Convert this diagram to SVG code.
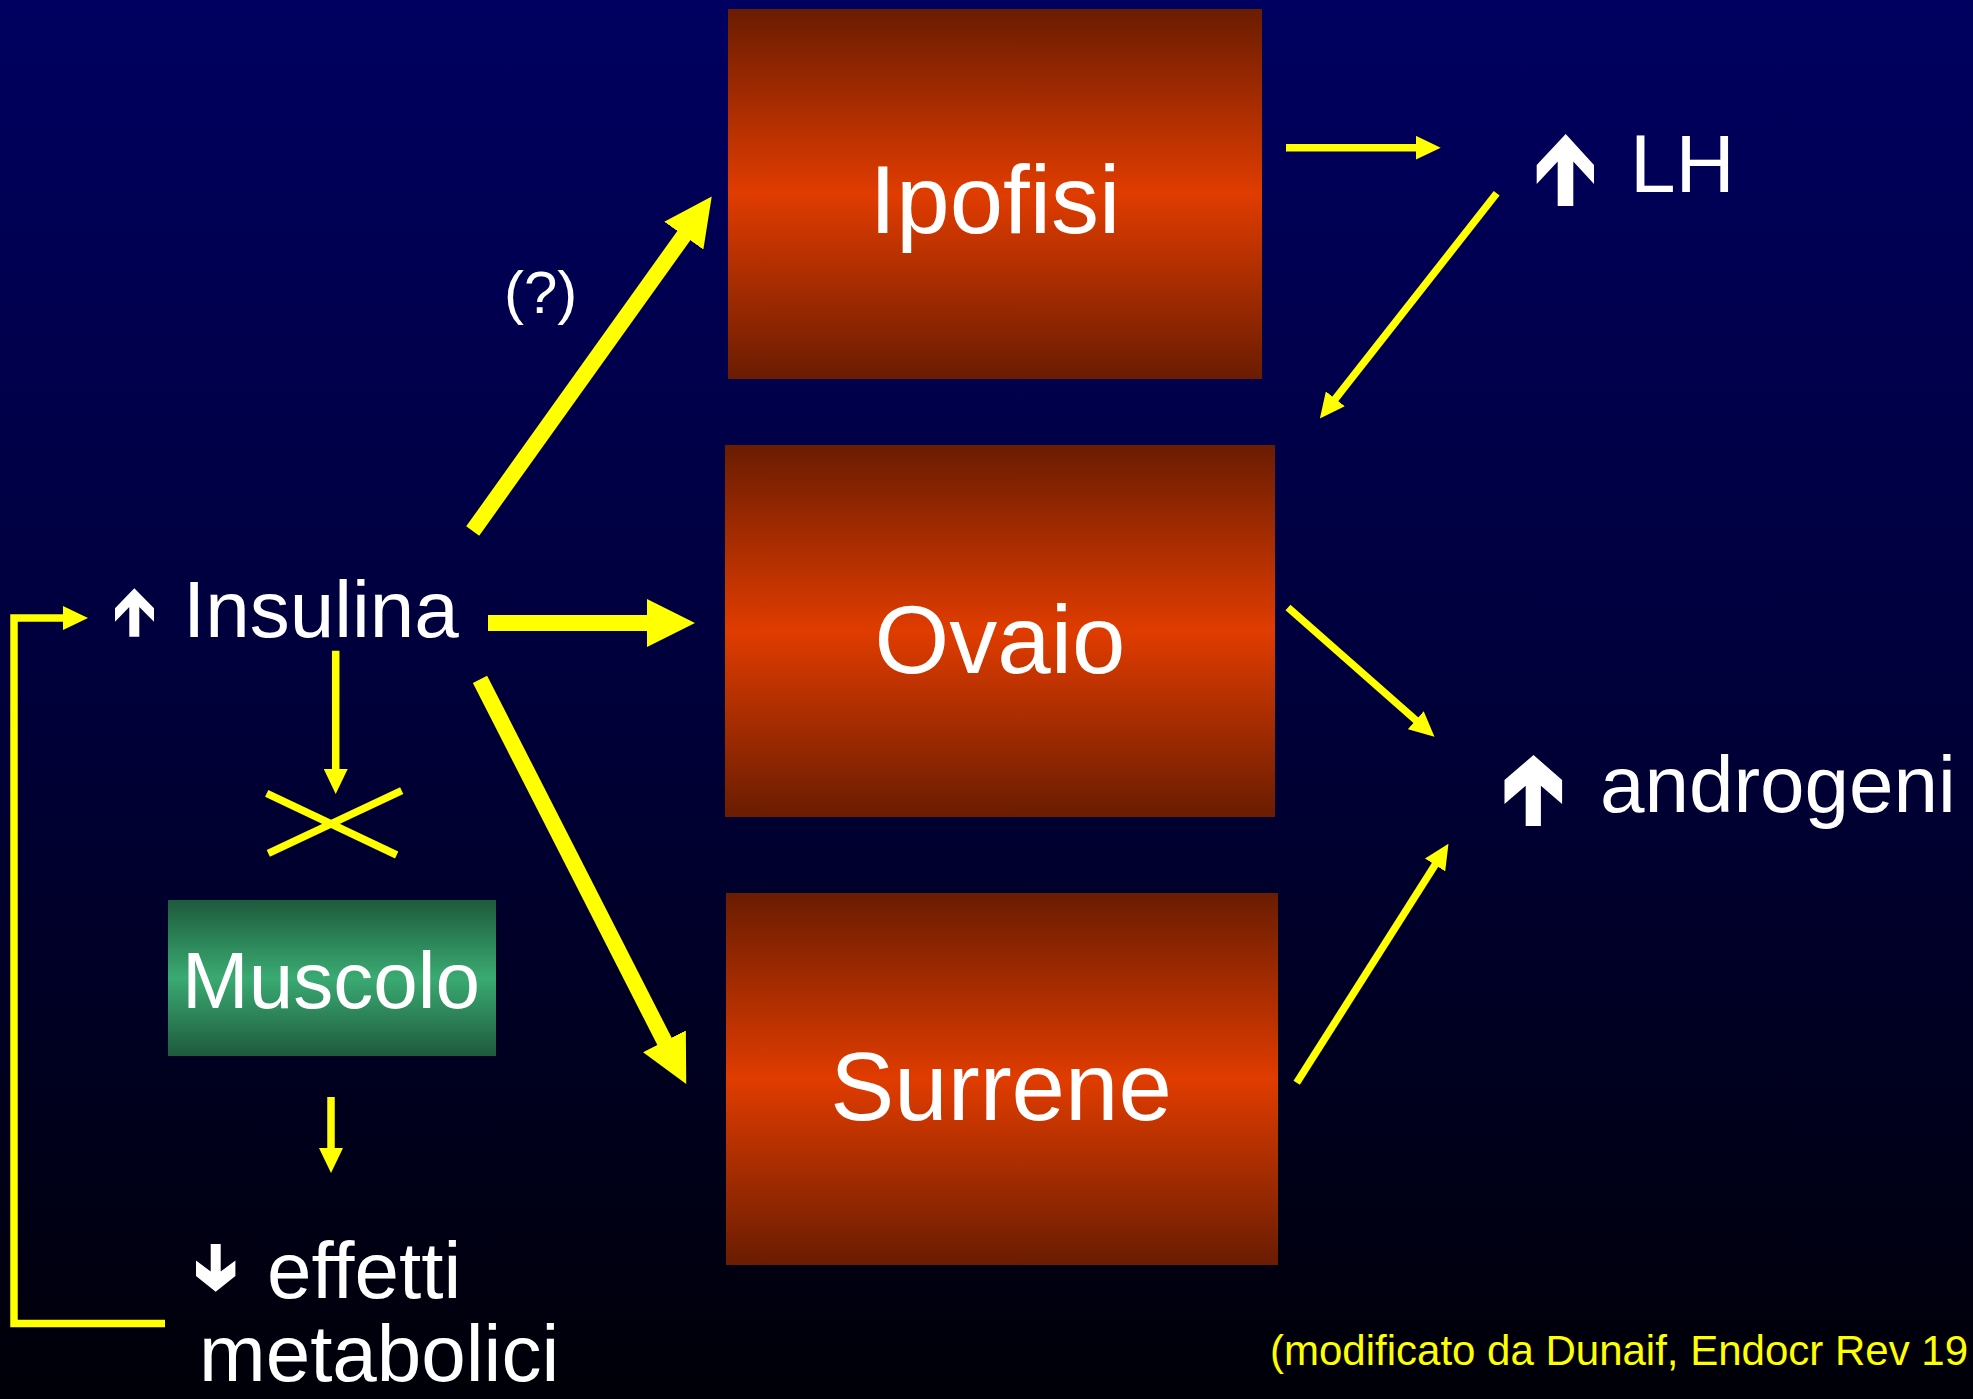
<svg xmlns="http://www.w3.org/2000/svg" width="1973" height="1399" viewBox="0 0 1973 1399">
  <defs>
    <linearGradient id="bg" x1="0" y1="0" x2="0" y2="1">
      <stop offset="0" stop-color="#000060"/>
      <stop offset="0.5" stop-color="#00003a"/>
      <stop offset="1" stop-color="#000008"/>
    </linearGradient>
    <linearGradient id="orange" x1="0" y1="0" x2="0" y2="1">
      <stop offset="0" stop-color="#6a1c02"/>
      <stop offset="0.5" stop-color="#e03c00"/>
      <stop offset="1" stop-color="#6a1c02"/>
    </linearGradient>
    <linearGradient id="green" x1="0" y1="0" x2="0" y2="1">
      <stop offset="0" stop-color="#1e5a3c"/>
      <stop offset="0.5" stop-color="#3aaa72"/>
      <stop offset="1" stop-color="#1e5a3c"/>
    </linearGradient>
    <marker id="headThick" viewBox="0 -24 48 48" markerWidth="48" markerHeight="48" refX="1" refY="0" orient="auto" markerUnits="userSpaceOnUse">
      <path d="M0,-24 L48,0 L0,24 Z" fill="#ffff00"/>
    </marker>
    <marker id="headThin" viewBox="0 -12 25 24" markerWidth="25" markerHeight="24" refX="1" refY="0" orient="auto" markerUnits="userSpaceOnUse">
      <path d="M0,-12 L25,0 L0,12 Z" fill="#ffff00"/>
    </marker>
  </defs>
  <style>
    .lbl { font-family: "Liberation Sans", Arial, sans-serif; fill: #ffffff; }
    .box { font-size: 96px; text-anchor: middle; }
    .thick { stroke: #ffff00; stroke-width: 16; fill: none; marker-end: url(#headThick); }
    .thin { stroke: #ffff00; stroke-width: 7.5; fill: none; marker-end: url(#headThin); }
    .plain { stroke: #ffff00; stroke-width: 7.5; fill: none; stroke-linejoin: miter; }
    .sym { fill: #ffffff; }
  </style>

  <rect x="0" y="0" width="1973" height="1399" fill="url(#bg)"/>

  <g id="ipofisi">
    <rect x="728" y="9" width="534" height="370" fill="url(#orange)"/>
    <text class="lbl box" x="995" y="233">Ipofisi</text>
  </g>
  <g id="ovaio">
    <rect x="725" y="445" width="550" height="372" fill="url(#orange)"/>
    <text class="lbl box" x="1000" y="673">Ovaio</text>
  </g>
  <g id="surrene">
    <rect x="726" y="893" width="552" height="372" fill="url(#orange)"/>
    <text class="lbl box" x="1001" y="1120">Surrene</text>
  </g>
  <g id="muscolo">
    <rect x="168" y="900" width="328" height="156" fill="url(#green)"/>
    <text class="lbl" x="331" y="1008" font-size="80" text-anchor="middle">Muscolo</text>
  </g>
  <g id="insulina">
    <polygon class="sym" points="134.3,588.3 154,608.3 154,621.7 139.3,606.9 139.3,636.7 129.3,636.7 129.3,606.9 115,621.7 115,608.3"/>
    <text class="lbl" x="183" y="637" font-size="80">Insulina</text>
  </g>
  <g id="lh">
    <polygon class="sym" points="1565.7,134 1594,165 1594,184 1573.3,161.6 1573.3,206 1557.7,206 1557.7,161.6 1536.7,184 1536.7,165"/>
    <text class="lbl" x="1630" y="192" font-size="82">LH</text>
  </g>
  <g id="androgeni">
    <polygon class="sym" points="1533.5,755 1562.1,780 1562.1,804 1540.9,785.7 1540.9,826 1525.7,826 1525.7,785.7 1504.5,804 1504.5,780"/>
    <text class="lbl" x="1600" y="812" font-size="80">androgeni</text>
  </g>
  <g id="effetti">
    <polygon class="sym" points="215.7,1291.7 235.4,1276 235.4,1260.5 220.7,1271.5 220.7,1244 210.7,1244 210.7,1271.5 196,1260.5 196,1276"/>
    <text class="lbl" x="267" y="1298" font-size="80">effetti</text>
    <text class="lbl" x="199" y="1381" font-size="80">metabolici</text>
  </g>
  <g id="question">
    <text class="lbl" x="504" y="313" font-size="60">(?)</text>
  </g>
  <g id="citation">
    <text x="1270" y="1365" font-size="42" font-family="'Liberation Sans', Arial, sans-serif" fill="#ffff00">(modificato da Dunaif, Endocr Rev 19</text>
  </g>

  <g id="connectors">
    <line class="thick" x1="472.7" y1="531" x2="684.4" y2="234.8"/>
    <line class="thick" x1="488" y1="623" x2="648" y2="623"/>
    <line class="thick" x1="480" y1="679.3" x2="664.9" y2="1042.2"/>
    <line class="thin" x1="335.7" y1="650.7" x2="335.7" y2="770"/>
    <line class="thin" x1="331" y1="1097" x2="331" y2="1149"/>
    <line class="thin" x1="1286" y1="147.7" x2="1416.7" y2="147.7"/>
    <line class="thin" x1="1496.7" y1="193.3" x2="1334.7" y2="399.6"/>
    <line class="thin" x1="1288" y1="607.5" x2="1416.5" y2="720.8"/>
    <line class="thin" x1="1296.7" y1="1082.7" x2="1435.6" y2="864.1"/>
    <polyline class="thin" points="165,1323.6 14,1323.6 14,618 64,618"/>
    <line class="plain" x1="266.7" y1="793.3" x2="396.7" y2="855"/>
    <line class="plain" x1="268.3" y1="853.3" x2="401.7" y2="790.7"/>
  </g>
</svg>
